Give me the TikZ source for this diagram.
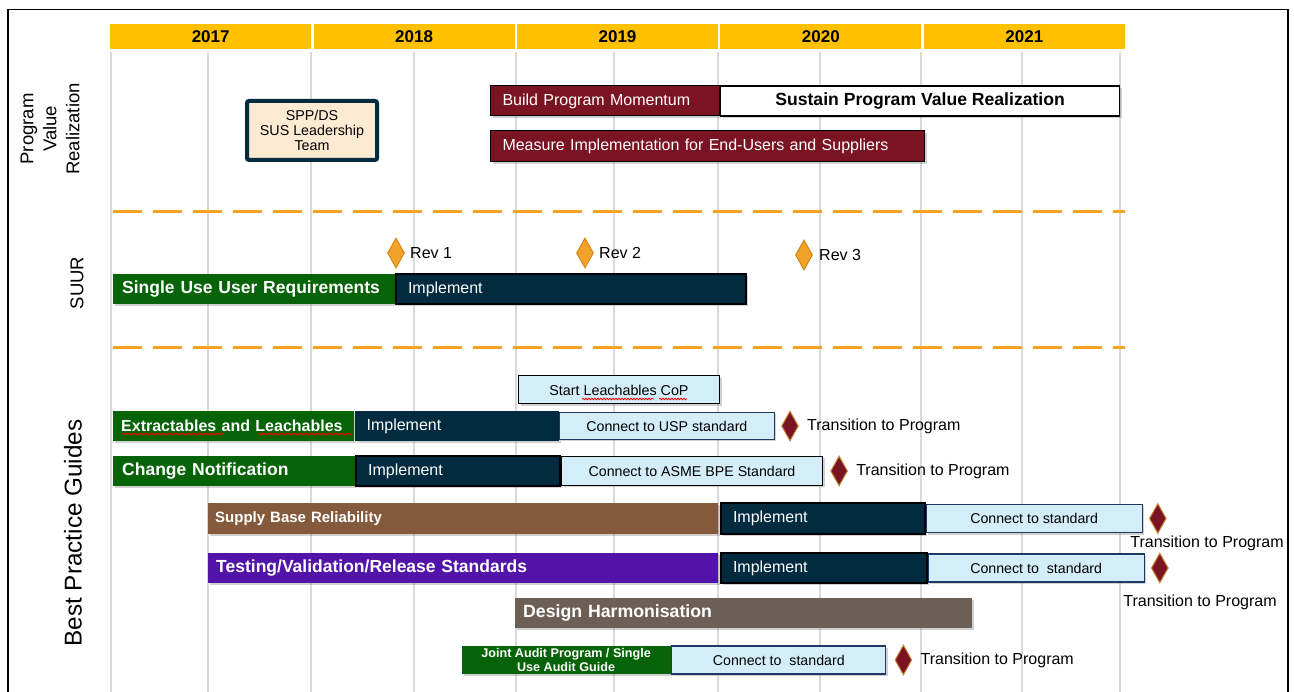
\documentclass[tikz,border=0pt]{standalone}
\usepackage{fontspec}
\setmainfont{Liberation Sans}
\usetikzlibrary{positioning}
\usetikzlibrary{shapes.geometric}
\usetikzlibrary{shadows}
\usetikzlibrary{decorations.pathmorphing}
\definecolor{yearfill}{HTML}{FFC000}
\definecolor{dkred}{HTML}{7A1422}
\definecolor{navy}{HTML}{022B3F}
\definecolor{ltblue}{HTML}{D4EEF9}
\definecolor{stdedge}{HTML}{1F3864}
\definecolor{grn}{HTML}{066308}
\definecolor{brn}{HTML}{845A3D}
\definecolor{purp}{HTML}{5214A8}
\definecolor{taupe}{HTML}{6C6056}
\definecolor{dashor}{HTML}{F4A424}
\definecolor{peach}{HTML}{FCEBD2}
\definecolor{gridgray}{HTML}{D9D9D9}
\definecolor{revor}{HTML}{F2A22A}
\definecolor{revedge}{HTML}{D4880F}
\definecolor{dmdedge}{HTML}{C88A3A}
\newcommand{\fsz}[2]{\fontsize{#1}{#2}\selectfont}
\tikzset{bar node/.style={anchor=west,minimum height=30pt,inner xsep=10pt,inner ysep=0pt,text=white,align=left,text width=#1,font=\fsz{16}{19},drop shadow={shadow xshift=2pt,shadow yshift=-2pt,opacity=0.3,fill=black!60}}}
\tikzset{box node/.style={anchor=west,minimum width=#1,minimum height=28pt,inner sep=0pt,align=center,fill=ltblue,draw=stdedge,line width=1.2pt,font=\fsz{14.2}{17},drop shadow={shadow xshift=2pt,shadow yshift=-2pt,opacity=0.3,fill=black!60}}}
\tikzset{year node/.style={anchor=north west,minimum width=201pt,minimum height=25pt,inner sep=0pt,fill=yearfill,font=\bfseries\fsz{17}{20}}}
\tikzset{dia node/.style={diamond,minimum width=17pt,minimum height=30pt,inner sep=0pt,line width=1pt,fill=dkred,draw=dmdedge}}
\tikzset{side node/.style={rotate=90,align=center,inner sep=0pt}}
\tikzset{note node/.style={inner sep=0pt,font=\fsz{16}{19}}}
\begin{document}
\begin{tikzpicture}[x=1pt,y=-1pt]
    \useasboundingbox (0,0) rectangle (1294,692);
    \draw[line width=1.5pt] (8,692) -- (8,9.5) -- (1288,9.5) -- (1288,692);
    % half-year grid
    \foreach \gx in {111,208,311,414,516,614,718,820,921,1022,1120}
        \draw[gridgray,line width=2.5pt] (\gx,52) -- (\gx,692);

    % years
    \node[year node] (y_{1}) at (110,24) {2017};
    \node[year node] (y_{2}) [right = 2pt of y_{1}] {2018};
    \node[year node] (y_{3}) [right = 2pt of y_{2}] {2019};
    \node[year node] (y_{4}) [right = 2pt of y_{3}] {2020};
    \node[year node] (y_{5}) [right = 2pt of y_{4}] {2021};

    \draw[dashor,line width=3pt,dash pattern=on 29pt off 11pt] (113,212) -- (1125,212);
    \draw[dashor,line width=3pt,dash pattern=on 29pt off 11pt] (113,348) -- (1125,348);

    \node[side node,font=\fsz{18.5}{23}] (pvr) at (50,129) {Program\\Value\\Realization};
    \node[side node,font=\fsz{18.5}{22}] (suur) at (77,283) {SUUR};
    \node[side node,font=\fsz{24.3}{28}] (bpg) at (73,533) {Best Practice Guides};

    % program value realization
    \node[draw=navy,fill=peach,line width=4pt,rounded corners=2pt,minimum width=130pt,minimum height=59pt,inner sep=0pt,align=center,font=\fsz{14.3}{15}] (spp) at (312,130.5) {SPP/DS\\SUS Leadership\\Team};
    \node[bar node=205pt,inner xsep=12pt,fill=dkred,draw=black,line width=1pt] (bpm) at (490,101) {Build Program Momentum};
    \node[box node=399pt,minimum height=30pt,fill=white,draw=black,font=\bfseries\fsz{17.6}{20}] (spvr) [right = 0pt of bpm] {Sustain Program Value Realization};
    \node[bar node=410pt,inner xsep=12pt,fill=dkred,draw=black,line width=1pt,minimum height=31pt] (mie) at (490,146.5) {Measure Implementation for End-Users and Suppliers};

    % SUUR
    \node[dia node,fill=revor,draw=revedge] (r_{1}) at (396,253) {};
    \node[note node] (rl_{1}) [right = 5pt of r_{1}] {Rev 1};
    \node[dia node,fill=revor,draw=revedge] (r_{2}) at (585,253) {};
    \node[note node] (rl_{2}) [right = 5pt of r_{2}] {Rev 2};
    \node[dia node,fill=revor,draw=revedge] (r_{3}) at (804,255) {};
    \node[note node] (rl_{3}) [right = 6pt of r_{3}] {Rev 3};
    \node[bar node=264pt,inner xsep=9pt,fill=grn,font=\bfseries\fsz{17.5}{20}] (sur) at (113,289) {Single Use User Requirements};
    \node[bar node=326pt,inner xsep=12pt,fill=navy,draw=black,line width=1.2pt] (imp_{1}) [right = 0pt of sur] {Implement};

    % best practice guides
    \node[box node=201pt,draw=black,line width=1pt,font=\fsz{14.3}{17}] (slc) at (518,390) {Start Leachables CoP};

    \node[bar node=225pt,inner xsep=8pt,fill=grn,font=\bfseries\fsz{16}{19}] (enl) at (113,426) {Extractables and Leachables};
    \node[bar node=180pt,inner xsep=12pt,fill=navy] (imp_{2}) [right = 0pt of enl] {Implement};
    \node[box node=215pt,minimum height=27pt] (usp) [right = 0pt of imp_{2}] {Connect to USP standard};
    \node[dia node] (d_{1}) [right = 6pt of usp] {};
    \node[note node] (t_{1}) [right = 8pt of d_{1}] {Transition to Program};

    \node[bar node=224pt,inner xsep=9pt,fill=grn,font=\bfseries\fsz{17.5}{20}] (chn) at (113,471) {Change Notification};
    \node[bar node=180pt,inner xsep=12pt,fill=navy,draw=black,line width=1.5pt] (imp_{3}) [right = 0pt of chn] {Implement};
    \node[box node=261pt,minimum height=29pt,draw=black] (asme) [right = 0pt of imp_{3}] {Connect to ASME BPE Standard};
    \node[dia node] (d_{2}) [right = 7pt of asme] {};
    \node[note node] (t_{2}) [right = 8pt of d_{2}] {Transition to Program};

    \node[bar node=496pt,inner xsep=7pt,fill=brn,minimum height=31pt,font=\bfseries\fsz{15}{18}] (sbr) at (208,518.5) {Supply Base Reliability};
    \node[bar node=180pt,inner xsep=12pt,fill=navy,draw=black,line width=1.2pt,minimum height=31pt] (imp_{4}) [right = 2pt of sbr] {Implement};
    \node[box node=216pt] (cts_{1}) [right = 0pt of imp_{4}] {Connect to standard};
    \node[dia node] (d_{3}) [right = 6pt of cts_{1}] {};
    \node[note node] (t_{3}) at (1207,543) {Transition to Program};

    \node[bar node=494pt,inner xsep=8pt,fill=purp,font=\bfseries\fsz{17.5}{20}] (tvr) at (208,568) {Testing/Validation/Release Standards};
    \node[bar node=182pt,inner xsep=12pt,fill=navy,draw=black,line width=1.2pt] (imp_{5}) [right = 2pt of tvr] {Implement};
    \node[box node=216pt] (cts_{2}) [right = 0pt of imp_{5}] {Connect to\ \ standard};
    \node[dia node] (d_{4}) [right = 6pt of cts_{2}] {};
    \node[note node] (t_{4}) at (1200,602) {Transition to Program};

    \node[bar node=441pt,inner xsep=8pt,fill=taupe,font=\bfseries\fsz{17.7}{20}] (dh) at (515,613) {Design Harmonisation};

    \node[box node=209pt,fill=grn,draw=none,text=white,font=\bfseries\fsz{12.6}{13.3}] (jap) at (461,660) {Joint Audit Program / Single\\Use Audit Guide};
    \node[box node=214pt] (cts_{3}) [right = 0pt of jap] {Connect to\ \ standard};
    \node[dia node] (d_{5}) [right = 8pt of cts_{3}] {};
    \node[note node] (t_{5}) [right = 8pt of d_{5}] {Transition to Program};

    % spelling marks
    \draw[red,line width=0.8pt,decorate,decoration={snake,amplitude=0.8pt,segment length=3pt}] (122,434) -- (223,434);
    \draw[red,line width=0.8pt,decorate,decoration={snake,amplitude=0.8pt,segment length=3pt}] (258,434) -- (352,434);
    \draw[red,line width=0.8pt,decorate,decoration={snake,amplitude=0.8pt,segment length=3pt}] (582,399) -- (654,399);
    \draw[red,line width=0.8pt,decorate,decoration={snake,amplitude=0.8pt,segment length=3pt}] (659,399) -- (687,399);
\end{tikzpicture}
\end{document}
